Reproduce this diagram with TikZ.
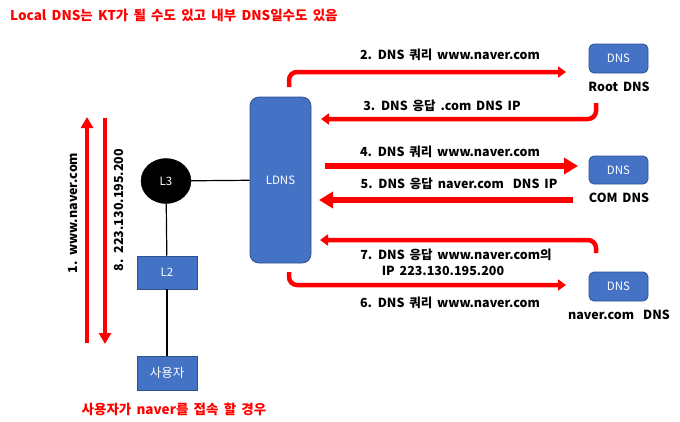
\documentclass[tikz,border=0pt]{standalone}
\usepackage{fontspec}
\setmainfont{Noto Sans CJK KR}[WordSpace=1.7]
\usetikzlibrary{arrows.meta,shapes.geometric}
\definecolor{boxblue}{HTML}{4472C4}
\definecolor{boxedge}{HTML}{2F528F}
\definecolor{arrred}{HTML}{FF0000}
\begin{document}
\begin{tikzpicture}[x=1pt,y=-1pt,
  bluebox/.style={fill=boxblue,draw=boxedge,line width=0.8pt,text=white,font=\fontsize{11.5}{13}\selectfont,inner sep=0pt},
  rbox/.style={bluebox,rounded corners=5pt},
  lbl/.style={font=\fontsize{12.5}{15}\selectfont\bfseries,text=black,inner sep=0pt},
  redtxt/.style={font=\fontsize{13.5}{16}\selectfont\bfseries,text=arrred,inner sep=0pt},
  thin arrow/.style={draw=arrred,line width=4.5pt,-{Triangle[length=8pt,width=11pt]}},
  fat arrow/.style={draw=arrred,line width=6pt,-{Triangle[length=14pt,width=16pt]}},
  link/.style={draw=black,line width=1.2pt}]
\useasboundingbox (0,0) rectangle (680,421);

\node[redtxt,anchor=west] (title) at (10,15) {Local DNS는 KT가 될 수도 있고 내부 DNS일수도 있음};
\node[redtxt,anchor=center] (caption) at (174,409) {사용자가 naver를 접속 할 경우};

% LDNS
\node[bluebox,rounded corners=9pt,minimum width=61pt,minimum height=166pt] (ldns) at (280.5,180) {LDNS};
% L3
\node[fill=black,draw=black,ellipse,minimum width=50pt,minimum height=45pt,inner sep=0pt,text=white,font=\fontsize{11.5}{13}\selectfont] (l3) at (166,181) {L3};
% L2
\node[bluebox,minimum width=60pt,minimum height=33pt] (l2) at (167,272.5) {L2};
% user
\node[bluebox,minimum width=60pt,minimum height=34pt,font=\fontsize{12.5}{14}\selectfont] (user) at (167,373) {사용자};

\draw[link] (l3) -- (ldns);
\draw[link] (l3) -- (l2);
\draw[link] (l2) -- (user);

% DNS servers
\node[rbox,minimum width=59pt,minimum height=29pt] (root) at (618.5,58.5) {DNS};
\node[lbl,anchor=center] (rootl) at (619,87) {Root DNS};
\node[rbox,minimum width=59pt,minimum height=28pt] (com) at (618.5,170) {DNS};
\node[lbl,anchor=center] (coml) at (619,198) {COM DNS};
\node[rbox,minimum width=59pt,minimum height=29pt] (nav) at (618.5,286.5) {DNS};
\node[lbl,anchor=center] (navl) at (619,315) {naver.com\hspace{9pt}DNS};

% connector coordinates
\coordinate (a2s) at (289,87);
\coordinate (a2e) at (566,72);
\coordinate (a3s) at (596,103);
\coordinate (a3e) at (321,119);
\coordinate (a4s) at (325,166);
\coordinate (a4e) at (578,166);
\coordinate (a5s) at (573,200);
\coordinate (a5e) at (319,200);
\coordinate (a7s) at (596,253);
\coordinate (a7e) at (320,240);
\coordinate (a6s) at (289,272);
\coordinate (a6e) at (566,285);
\coordinate (upS) at (87,343);
\coordinate (upE) at (87,117);
\coordinate (dnS) at (105,118);
\coordinate (dnE) at (105,344);

\draw[thin arrow,rounded corners=8pt] (a2s) |- (a2e);
\draw[thin arrow,rounded corners=8pt] (a3s) |- (a3e);
\draw[fat arrow] (a4s) -- (a4e);
\draw[fat arrow] (a5s) -- (a5e);
\draw[thin arrow,rounded corners=8pt] (a7s) |- (a7e);
\draw[thin arrow,rounded corners=8pt] (a6s) |- (a6e);
\draw[draw=arrred,line width=4pt,-{Triangle[length=11pt,width=12pt]}] (upS) -- (upE);
\draw[draw=arrred,line width=4pt,-{Triangle[length=11pt,width=12pt]}] (dnS) -- (dnE);

% labels
\node[lbl] (t2) at (450,55) {2. DNS 쿼리 www.naver.com};
\node[lbl] (t3) at (442,106) {3. DNS 응답 .com DNS IP};
\node[lbl] (t4) at (450,152) {4. DNS 쿼리 www.naver.com};
\node[lbl] (t5) at (459,184) {5. DNS 응답 naver.com\hspace{9pt}DNS IP};
\node[lbl] (t7) at (456,255) {7. DNS 응답 www.naver.com의};
\node[lbl] (t7b) at (443,271) {IP 223.130.195.200};
\node[lbl] (t6) at (450,303) {6. DNS 쿼리 www.naver.com};
\node[lbl,rotate=90] (t1) at (73,213) {1. www.naver.com};
\node[lbl,rotate=90] (t8) at (119,210) {8. 223.130.195.200};
\end{tikzpicture}
\end{document}
